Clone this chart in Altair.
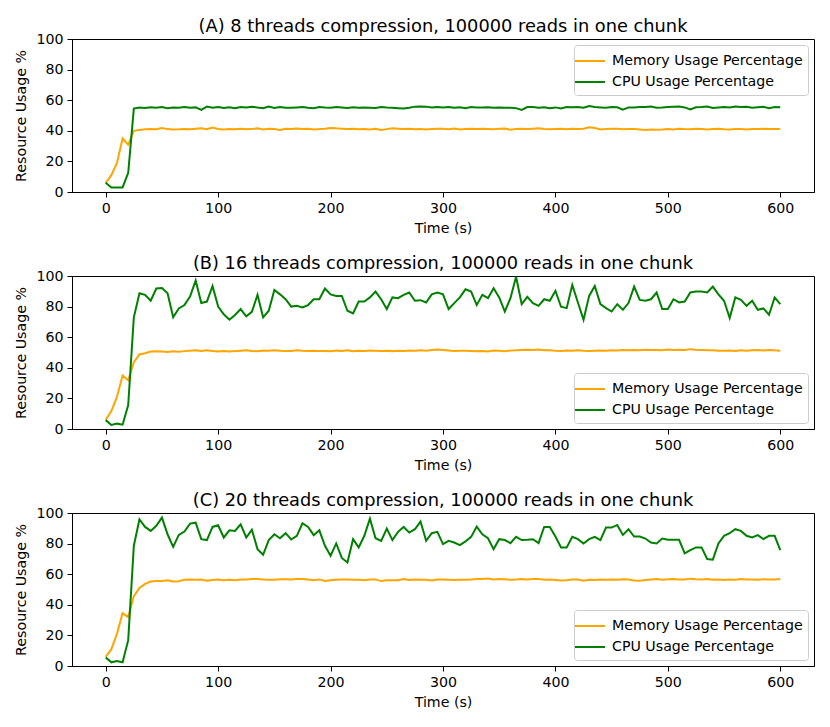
import altair as alt
import pandas as pd

time_s = list(range(0, 605, 5))

mem_A = [6, 11, 19, 35, 31, 40, 40.6, 41.0, 41.2, 41.0,
         41.8, 41.1, 40.9, 41.0, 41.2, 41.0, 41.3, 41.6, 41.1, 42.1,
         41.2, 40.9, 41.1, 41.0, 41.3, 41.0, 41.1, 41.6, 40.9, 41.3,
         41.2, 40.6, 41.3, 41.1, 41.5, 41.2, 41.3, 40.9, 41.1, 41.4,
         41.9, 41.6, 41.4, 41.2, 41.4, 41.0, 41.2, 40.9, 41.3, 40.5,
         41.1, 41.6, 41.4, 41.2, 41.3, 41.0, 41.2, 40.9, 41.1, 41.3,
         41.4, 41.0, 41.5, 40.9, 41.2, 41.3, 41.1, 41.4, 41.2, 41.0,
         41.3, 41.5, 40.7, 41.2, 41.3, 41.1, 41.4, 41.6, 41.2, 41.0,
         41.2, 41.3, 41.0, 41.4, 41.2, 41.3, 42.3, 41.8, 40.8, 41.2,
         41.4, 41.3, 41.0, 41.2, 41.1, 40.9, 40.6, 40.8, 40.7, 40.9,
         41.2, 40.9, 41.3, 41.1, 41.0, 41.4, 41.2, 40.9, 41.1, 41.3,
         41.0, 40.8, 41.2, 41.1, 40.9, 41.2, 41.1, 41.3, 41.2, 41.1,
         41.2]
cpu_A = [6, 3, 3, 3, 12.5, 54.5, 55.2, 54.9, 55.4, 55.0,
         55.5, 54.8, 55.3, 55.1, 55.6, 55.0, 55.3, 53.7, 55.8, 55.1,
         55.6, 54.9, 55.4, 54.8, 55.5, 55.3, 55.7, 55.2, 54.8, 55.9,
         54.9, 55.6, 55.1, 55.0, 55.3, 55.5, 55.0, 54.8, 55.6, 55.2,
         55.0, 55.5, 55.2, 54.9, 55.4, 55.0, 55.3, 55.1, 54.9, 55.5,
         55.2, 55.0, 54.8, 54.6, 55.0, 55.8, 55.9, 55.8, 55.2, 55.6,
         55.3, 55.5, 55.1, 55.4, 54.7, 55.5, 55.2, 55.3, 55.4, 55.0,
         55.2, 55.1, 55.0, 54.8, 53.6, 55.5, 55.6, 55.1, 55.4, 54.7,
         55.3, 54.6, 55.6, 55.4, 55.6, 55.1, 56.2, 55.5, 55.3, 55.1,
         55.5, 55.4, 53.8, 55.3, 55.2, 55.5, 55.6, 55.8, 55.1, 55.2,
         55.6, 55.7, 55.8, 55.3, 53.9, 55.4, 55.6, 55.9, 54.9, 55.3,
         55.6, 55.2, 55.8, 55.5, 55.7, 55.0, 55.4, 55.7, 54.8, 55.6,
         55.4]

mem_B = [6, 11.7, 21, 35, 31.8, 43.7, 48.7, 49.5, 50.6, 50.8,
         50.6, 50.3, 50.8, 50.5, 50.9, 51.2, 51.5, 51.0, 51.4, 51.0,
         50.6, 50.9, 50.7, 50.9, 51.2, 51.4, 51.0, 50.8, 51.3, 51.2,
         51.5, 51.2, 50.9, 51.0, 51.4, 51.1, 51.0, 51.2, 50.9, 51.0,
         50.8, 51.3, 51.0, 51.4, 50.9, 51.2, 51.0, 51.3, 51.2, 51.0,
         51.1, 50.9, 51.2, 51.0, 51.3, 51.1, 51.4, 51.2, 51.6, 51.9,
         51.6, 51.3, 51.0, 51.1, 51.2, 51.0, 50.8, 50.9, 50.7, 51.3,
         51.2, 50.9, 51.3, 51.4, 51.7, 51.8, 51.6, 52.0, 51.4, 51.5,
         51.2, 51.0, 51.3, 51.2, 51.4, 51.1, 51.0, 51.2, 51.3, 51.2,
         51.4, 51.3, 51.6, 51.5, 51.6, 51.4, 51.8, 51.6, 51.7, 51.5,
         51.9, 51.6, 51.8, 51.7, 52.2, 51.8, 51.6, 51.4, 51.5, 51.2,
         51.1, 51.3, 51.0, 51.4, 51.2, 51.5, 51.6, 51.3, 51.7, 51.4,
         51.2]
cpu_B = [5.8, 2.6, 3.5, 2.8, 15.6, 73, 88.7, 87.7, 83.8, 91.8,
         92.2, 88.7, 73, 78.8, 81, 86.6, 97, 82.3, 83.3, 93.5,
         80, 75, 71.4, 74.5, 78.4, 73.6, 76.6, 87.7, 73, 77.3,
         90.9, 88, 84.8, 80, 80.5, 79.4, 81, 84.8, 84.8, 91.8,
         88, 87, 87, 77.3, 75.5, 83.3, 83.3, 86, 89.8, 84.8,
         78.4, 86, 85.5, 87.7, 89.2, 83.8, 84.2, 82.7, 88, 89.2,
         88, 78.4, 82.3, 86, 91.3, 89.8, 81, 87.7, 85.5, 92,
         86, 76.8, 85.5, 99.5, 81.6, 86.4, 82.3, 80.5, 84.8, 83.8,
         90.3, 79.9, 79, 94.2, 82.7, 71.4, 87, 93.5, 81.6, 79,
         76.8, 81.6, 77.9, 82.3, 93.1, 84.4, 83.8, 84.8, 89.2, 78.4,
         78.4, 84.8, 82.7, 83.3, 89.2, 89.8, 89.8, 89.2, 93.1, 88,
         83.8, 72.5, 86, 84.4, 80.5, 83.8, 77.9, 78.8, 74.7, 86,
         81.6]

mem_C = [6, 11, 21, 34.6, 32, 45.7, 51, 53.7, 55.2, 55.6,
         55.6, 56.0, 55.2, 55.4, 56.4, 56.5, 56.3, 56.5, 55.8, 56.2,
         56.5, 56.1, 56.3, 56.1, 56.6, 56.5, 56.9, 56.9, 56.5, 56.4,
         56.4, 56.7, 56.7, 56.5, 56.8, 56.9, 56.6, 56.0, 56.6, 55.6,
         56.1, 56.4, 56.5, 56.5, 56.3, 56.4, 56.1, 56.5, 56.6, 55.5,
         56.0, 56.0, 56.1, 56.9, 56.2, 56.6, 56.4, 56.3, 55.9, 56.6,
         56.5, 56.4, 56.2, 56.3, 56.3, 56.5, 56.9, 56.8, 57.2, 56.5,
         56.8, 56.7, 56.4, 56.5, 56.9, 56.5, 56.9, 56.8, 56.4, 56.5,
         56.2, 55.9, 56.0, 56.5, 56.6, 55.8, 56.3, 56.2, 56.5, 56.4,
         56.6, 56.4, 56.7, 56.6, 55.9, 55.8, 56.2, 56.5, 56.8, 56.4,
         56.7, 56.8, 56.6, 56.5, 57.1, 56.7, 56.6, 56.9, 56.4, 56.5,
         56.2, 56.6, 56.4, 56.8, 56.5, 56.6, 56.4, 56.7, 56.5, 56.5,
         56.8]
cpu_C = [5.6, 2.4, 3.2, 2.4, 16.9, 78.6, 95.9, 90.9, 88.3, 91.6,
         97, 86.1, 77.9, 85.7, 87.9, 93.1, 93.7, 82.9, 82.3, 90.9,
         92, 84, 88.7, 88.3, 92.6, 84, 89, 76.4, 72.7, 82.3,
         86.1, 83.5, 86.8, 82.7, 85.1, 93.3, 90.9, 85.5, 88.7, 78.6,
         72.1, 80.1, 70.6, 67.7, 82.9, 77.5, 85.1, 96.3, 83.5, 81.8,
         89.8, 82.3, 87.7, 90.9, 87.2, 89.4, 94.4, 81.8, 86.8, 87.7,
         79.7, 81.8, 80.7, 79, 81.4, 84.4, 91.1, 86.1, 83.5, 76.4,
         82.9, 82.3, 80.3, 84.4, 82.3, 82.5, 82.9, 80.3, 90.9, 90.9,
         84.6, 77.5, 77.5, 84.4, 82.9, 80.1, 82.9, 84.4, 82.3, 90.5,
         90.5, 92.2, 85.7, 89.4, 84.6, 84.6, 83.3, 80.7, 80.1, 83.3,
         82.5, 82.5, 82.5, 73.6, 75.8, 77.5, 77.5, 69.9, 69.5, 80.1,
         85.1, 86.8, 89.4, 88.3, 85.1, 84, 85.5, 82.9, 85.1, 85.1,
         75.8]

titles = ["(A) 8 threads compression, 100000 reads in one chunk",
          "(B) 16 threads compression, 100000 reads in one chunk",
          "(C) 20 threads compression, 100000 reads in one chunk"]
series_names = ["Memory Usage Percentage", "CPU Usage Percentage"]
series_colors = ["#FFA500", "#008000"]
x_ticks = [0, 100, 200, 300, 400, 500, 600]
y_ticks = [0, 20, 40, 60, 80, 100]

FONT = "DejaVu Sans"


def panel(mem, cpu, title, legend_orient):
    rows = []
    for t, v in zip(time_s, mem):
        rows.append({"t": t, "v": v, "s": series_names[0], "o": 0})
    for t, v in zip(time_s, cpu):
        rows.append({"t": t, "v": v, "s": series_names[1], "o": 1})
    df = pd.DataFrame(rows)
    return alt.Chart(df, title=alt.Title(title)).mark_line(
        strokeWidth=2, clip=True
    ).encode(
        x=alt.X("t:Q", title="Time (s)",
                scale=alt.Scale(domain=[-30, 630], nice=False, zero=False),
                axis=alt.Axis(values=x_ticks, format="d")),
        y=alt.Y("v:Q", title="Resource Usage %",
                scale=alt.Scale(domain=[0, 100], nice=False),
                axis=alt.Axis(values=y_ticks, format="d")),
        color=alt.Color("s:N", sort=series_names,
                        scale=alt.Scale(domain=series_names, range=series_colors),
                        legend=alt.Legend(orient=legend_orient, title=None, offset=6)),
        order="o:Q",
    ).properties(width=742, height=153)


chart = alt.vconcat(
    panel(mem_A, cpu_A, titles[0], "top-right"),
    panel(mem_B, cpu_B, titles[1], "bottom-right"),
    panel(mem_C, cpu_C, titles[2], "bottom-right"),
    spacing=84, bounds="flush",
).resolve_scale(color="independent").resolve_legend(color="independent").properties(
    padding={"left": 6, "top": 9, "right": 5, "bottom": 5}
).configure_view(
    stroke="black", strokeWidth=1
).configure_axis(
    grid=False, domainColor="black", tickColor="black", labelColor="black",
    titleColor="black", labelFont=FONT, titleFont=FONT, labelFontSize=14.2,
    titleFontSize=14.2, titleFontWeight="normal", tickSize=5, labelPadding=4,
    domainWidth=1, tickWidth=1,
).configure_axisY(
    titlePadding=7
).configure_axisX(
    titlePadding=6
).configure_title(
    font=FONT, fontSize=17.8, fontWeight="normal", color="black", anchor="middle",
    baseline="alphabetic", offset=-4,
).configure_legend(
    labelFont=FONT, labelFontSize=14.2, labelColor="black", labelLimit=0,
    symbolType="M-1.5,0H1.5", symbolSize=400, symbolStrokeWidth=2,
    labelOffset=11, rowPadding=2, padding=5,
    strokeColor="#cccccc", cornerRadius=3, fillColor="rgba(255,255,255,0.8)",
)

chart.save("out.html", embed_options={"renderer": "svg", "actions": False})
